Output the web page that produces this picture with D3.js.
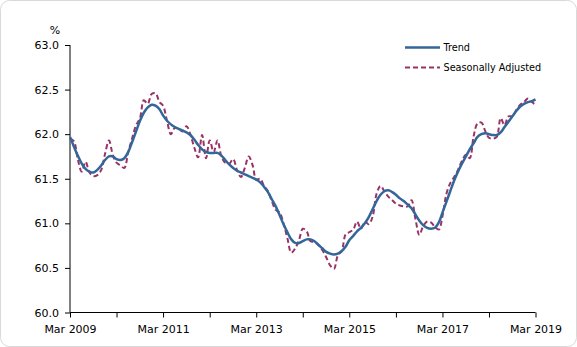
<!DOCTYPE html>
<html>
<head>
<meta charset="utf-8">
<script src="https://cdn.jsdelivr.net/npm/d3@7"></script>
<style>
  html, body { margin: 0; padding: 0; background: #fff; }
  svg { display: block; }
  text { font-family: "DejaVu Sans", Verdana, sans-serif; font-size: 11px; fill: #000; }
</style>
</head>
<body>
<svg id="chart" width="577" height="347"></svg>
<script>
// Monthly series, March 2009 to March 2019 (participation rate, %)
const startYear = 2009;
const startMonth = 2; // March (0-based)

const trend = [
  61.97, 61.86, 61.76, 61.67, 61.61, 61.58, 61.57, 61.60, 61.65, 61.71, 61.75, 61.75,
  61.72, 61.71, 61.73, 61.80, 61.91, 62.03, 62.15, 62.24, 62.30, 62.33, 62.32, 62.28,
  62.21, 62.15, 62.11, 62.08, 62.06, 62.04, 62.02, 61.99, 61.94, 61.88, 61.83, 61.80,
  61.79, 61.79, 61.79, 61.76, 61.71, 61.66, 61.62, 61.59, 61.57, 61.55, 61.53, 61.51,
  61.49, 61.46, 61.41, 61.35, 61.27, 61.19, 61.09, 60.99, 60.90, 60.82, 60.78, 60.78,
  60.80, 60.82, 60.82, 60.80, 60.76, 60.72, 60.68, 60.66, 60.65, 60.66, 60.69, 60.74,
  60.81, 60.86, 60.91, 60.95, 61.00, 61.07, 61.16, 61.25, 61.32, 61.36, 61.37, 61.35,
  61.32, 61.28, 61.25, 61.21, 61.17, 61.10, 61.03, 60.98, 60.95, 60.94, 60.95, 61.01,
  61.12, 61.24, 61.36, 61.48, 61.58, 61.67, 61.75, 61.83, 61.90, 61.97, 62.00, 62.01,
  62.00, 61.99, 61.99, 62.02, 62.08, 62.14, 62.20, 62.26, 62.31, 62.34, 62.36, 62.37,
  62.39
];

const seasonallyAdjusted = [
  61.95, 61.92, 61.72, 61.58, 61.69, 61.57, 61.53, 61.54, 61.60, 61.78, 61.93, 61.76,
  61.68, 61.65, 61.62, 61.80, 61.95, 62.10, 62.18, 62.38, 62.34, 62.45, 62.46, 62.36,
  62.32, 62.15, 62.00, 62.07, 62.06, 62.03, 62.09, 62.00, 61.85, 61.74, 61.99, 61.73,
  61.93, 61.80, 61.93, 61.75, 61.68, 61.67, 61.72, 61.60, 61.52, 61.62, 61.75, 61.65,
  61.49, 61.50, 61.42, 61.36, 61.25, 61.15, 61.12, 61.00, 60.83, 60.67, 60.72, 60.82,
  60.94, 60.91, 60.80, 60.79, 60.76, 60.70, 60.62, 60.53, 60.49, 60.64, 60.69, 60.88,
  60.90, 60.93, 61.02, 60.94, 61.02, 60.99, 61.08, 61.33, 61.42, 61.36, 61.30, 61.26,
  61.22, 61.20, 61.19, 61.19, 61.26, 61.05, 60.87, 60.97, 61.02, 61.01, 60.96, 60.93,
  61.08, 61.33, 61.45, 61.52, 61.60, 61.70, 61.77, 61.73, 61.98, 62.12, 62.13, 62.03,
  61.96, 61.95, 61.97, 62.18, 62.10, 62.20, 62.20, 62.27, 62.33, 62.36, 62.40, 62.36,
  62.33
];

const yTicks = [60.0, 60.5, 61.0, 61.5, 62.0, 62.5, 63.0];
const xLabelYears = [2009, 2011, 2013, 2015, 2017, 2019];
const seriesNames = ["Trend", "Seasonally Adjusted"];

const dates = trend.map((_, i) => new Date(startYear, startMonth + i, 1));

const svg = d3.select("#chart");
const W = 577, H = 347;
const m = { left: 70, right: 41.5, top: 45, bottom: 34.5 };

// Outer rounded frame
svg.append("rect")
  .attr("x", 0.5).attr("y", 0.5)
  .attr("width", W - 1).attr("height", H - 1)
  .attr("rx", 9).attr("ry", 9)
  .attr("fill", "#fff").attr("stroke", "#d9d9d9");

const x = d3.scaleTime()
  .domain([dates[0], dates[dates.length - 1]])
  .range([m.left, W - m.right]);
const y = d3.scaleLinear()
  .domain([60, 63])
  .range([H - m.bottom, m.top]);

// Y axis
const yAxis = d3.axisLeft(y)
  .tickValues(yTicks)
  .tickFormat(d3.format(".1f"))
  .tickSize(5)
  .tickPadding(6);
const gy = svg.append("g")
  .attr("transform", `translate(${m.left},0)`)
  .call(yAxis);
gy.select(".domain").attr("stroke", "#000").attr("d", `M0,${y(63)}V${y(60)}`);
gy.selectAll(".tick line").attr("stroke", "#000");
gy.selectAll("text").style("font-size", "11px").attr("fill", "#000");

// X axis: yearly ticks, labels every two years
const yearTicks = d3.range(0, 11).map(k => new Date(startYear + k, startMonth, 1));
const xAxis = d3.axisBottom(x)
  .tickValues(yearTicks)
  .tickFormat(d => xLabelYears.includes(d.getFullYear()) ? d3.timeFormat("Mar %Y")(d) : "")
  .tickSize(5)
  .tickPadding(8);
const gx = svg.append("g")
  .attr("transform", `translate(0,${y(60)})`)
  .call(xAxis);
gx.select(".domain").attr("stroke", "#000").attr("d", `M${x(dates[0])},0H${x(dates[dates.length - 1])}`);
gx.selectAll(".tick line").attr("stroke", "#000");
gx.selectAll("text").style("font-size", "11px").attr("fill", "#000");

// Unit label
svg.append("text")
  .attr("x", 55).attr("y", 34)
  .attr("text-anchor", "middle")
  .text("%");

// Series
const line = d3.line()
  .x((d, i) => x(dates[i]))
  .y(d => y(d))
  .curve(d3.curveCatmullRom.alpha(0.5));

svg.append("path")
  .datum(seasonallyAdjusted)
  .attr("d", line)
  .attr("fill", "none")
  .attr("stroke", "#993366")
  .attr("stroke-width", 2)
  .attr("stroke-dasharray", "5,3");

svg.append("path")
  .datum(trend)
  .attr("d", line)
  .attr("fill", "none")
  .attr("stroke", "#336699")
  .attr("stroke-width", 2.5);

// Legend
const legend = svg.append("g").attr("transform", "translate(405,0)");
legend.append("line")
  .attr("x1", 0).attr("x2", 35).attr("y1", 47.5).attr("y2", 47.5)
  .attr("stroke", "#336699").attr("stroke-width", 2.5);
legend.append("text").attr("x", 38.5).attr("y", 51).style("font-size", "9.7px").text(seriesNames[0]);
legend.append("line")
  .attr("x1", 0).attr("x2", 35).attr("y1", 67.5).attr("y2", 67.5)
  .attr("stroke", "#993366").attr("stroke-width", 2)
  .attr("stroke-dasharray", "5,3");
legend.append("text").attr("x", 38.5).attr("y", 71).style("font-size", "9.7px").text(seriesNames[1]);
</script>
</body>
</html>
